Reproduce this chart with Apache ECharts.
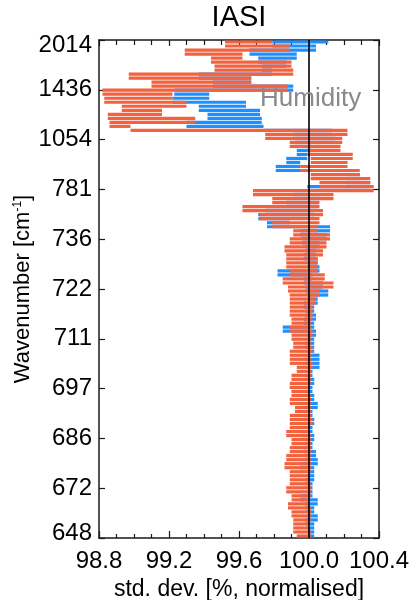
<!DOCTYPE html>
<html><head><meta charset="utf-8">
<script src="https://cdn.jsdelivr.net/npm/echarts@6/dist/echarts.min.js"></script>
<style>html,body{margin:0;padding:0;background:#fff}#c{width:411px;height:600px}</style>
</head><body><div id="c"></div>
<script>
// Wavenumber tick labels (bottom -> top), one every 100 channel positions
const TICK_LABELS = ['648','672','686','697','711','722','736','781','1054','1436','2014'];
const SPAN = 1000;            // channel-position axis length
const REF_VALUE = 100.0;      // reference (normalised) value
// Series values, listed from the top of the plot (2014 cm-1) down to 648 cm-1
const RED = [
 99.79, 99.52, 99.89, 99.29, 99.62, 99.44, 99.90, 99.46, 99.91, 98.97,
 99.67, 99.10, 99.88, 98.82, 99.22, 98.83, 99.30, 98.93, 99.16, 98.85,
 99.35, 98.86, 98.98, 100.22, 99.75, 100.19, 99.89, 100.18, 99.99, 100.25,
 100.01, 100.22, 99.95, 100.29, 100.01, 100.35, 100.06, 100.37, 99.68, 100.14,
 99.79, 100.06, 99.62, 100.08, 99.72, 100.06, 99.79, 100.05, 99.91, 100.12,
 99.89, 100.10, 99.86, 100.08, 99.87, 100.05, 99.87, 100.05, 99.89, 100.09,
 99.85, 100.14, 99.88, 100.06, 99.89, 100.04, 99.89, 100.02, 99.89, 100.02,
 99.90, 100.01, 99.89, 100.02, 99.90, 100.01, 99.91, 100.02, 99.89, 100.01,
 99.89, 100.02, 99.93, 100.01, 99.90, 100.01, 99.89, 100.00, 99.90, 100.01,
 99.89, 100.01, 99.92, 100.01, 99.89, 100.02, 99.89, 100.00, 99.87, 100.01,
 99.90, 100.01, 99.89, 100.01, 99.87, 100.01, 99.86, 100.01, 99.89, 100.00,
 99.89, 100.01, 99.87, 100.01, 99.90, 100.00, 99.88, 100.01, 99.90, 100.01,
 99.91, 100.00, 99.91, 100.01, 99.93
];
const BLUE = [
 100.11, 99.79, 100.04, 99.66, 99.93, 99.71, 99.87, 99.73, 99.79, 99.37,
 99.67, 99.45, 99.91, 99.23, 99.43, 99.22, 99.64, 99.37, 99.72, 99.42,
 99.73, 99.30, 99.74, 100.13, 99.91, 100.15, 99.92, 100.02, 99.93, 99.99,
 99.87, 99.95, 99.81, 100.22, 100.29, 100.21, 100.35, 99.99, 99.91, 100.06,
 99.87, 100.05, 99.75, 100.03, 99.71, 99.89, 99.76, 100.12, 99.95, 100.10,
 99.96, 100.06, 99.98, 100.04, 99.97, 100.05, 99.99, 100.06, 99.82, 100.02,
 99.97, 100.08, 99.98, 100.11, 99.99, 100.05, 99.97, 100.03, 99.98, 100.04,
 99.97, 100.03, 99.85, 100.04, 99.99, 100.03, 99.98, 100.03, 99.99, 100.06,
 99.98, 100.06, 99.99, 100.02, 99.98, 100.03, 99.99, 100.02, 99.98, 100.03,
 99.99, 100.05, 99.98, 100.02, 99.97, 100.03, 99.99, 100.02, 99.96, 100.03,
 99.98, 100.02, 99.97, 100.04, 99.98, 100.05, 99.95, 100.03, 99.99, 100.03,
 99.98, 100.02, 99.99, 100.02, 99.95, 100.05, 99.98, 100.03, 99.99, 100.05,
 99.98, 100.03, 99.99, 100.03, 100.00
];

const FONT = '"Liberation Sans", Arial, Helvetica, sans-serif';
const RED_COLOR = '#F2623F';
const BLUE_COLOR = '#1E8FFF';

// step-plot segments: each connects the previous value to the current one,
// drawn horizontally between the two channel positions
function toSegments(arr) {
  const n = arr.length, out = [];
  for (let i = 1; i < n; i++) {
    out.push([arr[i - 1], arr[i], (n - 1 - (i - 0.5)) * SPAN / (n - 1)]);
  }
  return out;
}
function segRenderer(color) {
  return function (params, api) {
    const a = api.coord([api.value(0), api.value(2)]);
    const b = api.coord([api.value(1), api.value(2)]);
    return {type: 'line', shape: {x1: a[0], y1: a[1], x2: b[0], y2: b[1]},
      style: {stroke: color, lineWidth: 3.2, lineCap: 'butt'}};
  };
}
const frame = {show: true, onZero: false, lineStyle: {color: '#1a1a1a', width: 1.5}};
const tickStyle = {color: '#1a1a1a', width: 1.2};

const chart = echarts.init(document.getElementById('c'), null, {renderer: 'canvas'});
chart.setOption({
  animation: false,
  backgroundColor: '#fff',
  textStyle: {fontFamily: FONT},
  grid: {left: 99, right: 32, top: 40, bottom: 62, outerBoundsMode: 'none'},
  xAxis: [{
    type: 'value', position: 'bottom', min: 98.8, max: 100.4, interval: 0.4,
    axisLine: frame, splitLine: {show: false},
    axisTick: {show: true, inside: true, length: 7, lineStyle: tickStyle},
    minorTick: {show: true, splitNumber: 4, length: 4, lineStyle: tickStyle},
    axisLabel: {fontSize: 24, color: '#000', margin: 11, fontFamily: FONT,
      formatter: v => v.toFixed(1)},
    name: 'std. dev. [%, normalised]', nameLocation: 'middle', nameGap: 38,
    nameTextStyle: {fontSize: 23, color: '#000', fontFamily: FONT}
  }, {
    type: 'value', position: 'top', min: 98.8, max: 100.4, interval: 0.4,
    axisLine: frame, splitLine: {show: false}, axisLabel: {show: false},
    axisTick: {show: true, inside: true, length: 6, lineStyle: tickStyle},
    minorTick: {show: true, splitNumber: 4, length: 5, lineStyle: tickStyle}
  }],
  yAxis: [{
    type: 'value', position: 'left', min: 0, max: SPAN, interval: 100,
    axisLine: frame, splitLine: {show: false},
    axisTick: {show: true, inside: true, length: 6, lineStyle: tickStyle},
    axisLabel: {show: true, fontSize: 24, color: '#000', margin: 7, fontFamily: FONT,
      formatter: v => {
        const k = Math.round(v / 100);
        if (k === TICK_LABELS.length - 1) return '{top|' + TICK_LABELS[k] + '}';
        if (k === 0) return '{bot|' + TICK_LABELS[k] + '}';
        return TICK_LABELS[k];
      },
      rich: {
        top: {fontSize: 24, color: '#000', fontFamily: FONT, padding: [10, 0, 0, 0]},
        bot: {fontSize: 24, color: '#000', fontFamily: FONT, padding: [0, 0, 10, 0]}
      }},
    name: 'Wavenumber [cm{sup|-1}]', nameLocation: 'middle', nameGap: 65, nameRotate: 90,
    nameMoveOverlap: false,
    nameTextStyle: {fontSize: 22, color: '#000', fontFamily: FONT,
      rich: {sup: {fontSize: 12, color: '#000', verticalAlign: 'top', padding: [0, 0, 10, 0], fontFamily: FONT}}}
  }, {
    type: 'value', position: 'right', min: 0, max: SPAN, interval: 100,
    axisLine: frame, splitLine: {show: false}, axisLabel: {show: false},
    axisTick: {show: true, inside: true, length: 6, lineStyle: tickStyle}
  }],
  graphic: [
    {type: 'text', x: 239, y: 18, style: {text: 'IASI', fontSize: 29, fill: '#000', fontFamily: FONT,
      textAlign: 'center', textVerticalAlign: 'middle'}},
    {type: 'text', x: 260, y: 99, z: 10, style: {text: 'Humidity', fontSize: 26, fill: '#8a8a8a', fontFamily: FONT,
      textAlign: 'left', textVerticalAlign: 'middle'}}
  ],
  series: [{
    type: 'custom', name: 'blue', xAxisIndex: 0, yAxisIndex: 0, z: 2,
    data: toSegments(BLUE), encode: {x: [0, 1], y: 2},
    renderItem: segRenderer(BLUE_COLOR)
  }, {
    type: 'custom', name: 'red', xAxisIndex: 0, yAxisIndex: 0, z: 3,
    data: toSegments(RED), encode: {x: [0, 1], y: 2},
    renderItem: segRenderer(RED_COLOR)
  }, {
    type: 'line', name: 'ref', xAxisIndex: 0, yAxisIndex: 0, z: 4, data: [],
    markLine: {silent: true, symbol: ['none', 'none'], label: {show: false},
      lineStyle: {color: '#000', width: 1.6, type: 'solid'},
      data: [{xAxis: REF_VALUE}]}
  }]
});
</script></body></html>
